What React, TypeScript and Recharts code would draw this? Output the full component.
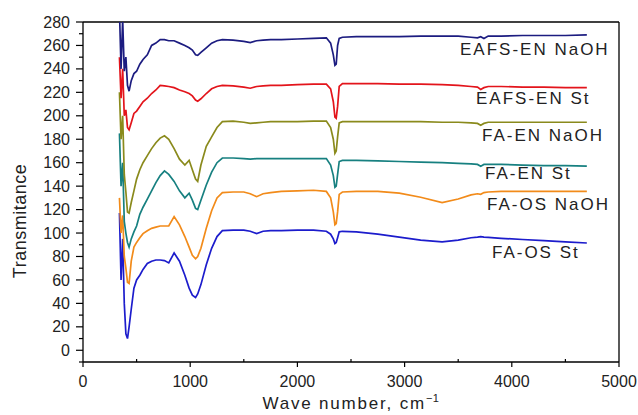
import React from 'react';
import { LineChart, Line, XAxis, YAxis, ReferenceLine, ReferenceDot } from 'recharts';

const FONT = '"Liberation Sans", Arial, Helvetica, sans-serif';

// Wave numbers (cm^-1)
const wave = [
  340, 355, 370, 385, 400, 415, 430, 450, 475, 500,
  530, 560, 600, 640, 680, 720, 760, 800, 850, 900,
  950, 990, 1020, 1050, 1070, 1100, 1150, 1200, 1250, 1300,
  1400, 1500, 1560, 1620, 1680, 1750, 1850, 2000, 2150, 2270,
  2310, 2335, 2350, 2362, 2375, 2390, 2420, 2550, 2750, 2950,
  3150, 3350, 3500, 3620, 3680, 3710, 3740, 3780, 3900, 4100,
  4300, 4500, 4700,
];

const eafsEnNaOH = [
  290, 240, 282, 238, 250, 226, 221, 230, 236, 238,
  244, 248, 252, 260, 262, 265, 265, 264, 264, 262,
  260, 258, 256, 252, 251.5, 254, 258, 262, 264, 265,
  264.5, 263.5, 262.5, 264, 264.5, 265, 265, 265.5, 266, 266.5,
  262, 252, 243, 244, 260, 266, 267, 267.5, 267.5, 267.5,
  268, 268, 268, 267, 266.5, 267.5, 266, 268, 268, 268.5,
  268.5, 268.5, 269,
];

const eafsEnSt = [
  250, 215, 240, 200, 205, 190, 188, 194, 202, 204,
  208, 212, 215, 219, 222, 226, 225.5, 225, 224, 222,
  220.5, 219, 217, 213.5, 212.5, 214.5, 219, 223, 225, 226,
  225.5, 224.5, 223.5, 225, 225.5, 226, 226, 226.5, 227, 227,
  223, 212, 199, 198, 208, 225, 227.5, 227.5, 227.5, 227,
  227, 226.5, 226, 225, 224.5, 222.5, 224, 225, 225, 224.5,
  224.5, 224, 224,
];

const faEnNaOH = [
  220, 180, 200, 150, 135, 118, 117, 126, 136, 146,
  154, 160, 166, 172, 177, 181, 183, 180, 172, 163,
  158, 162, 154, 146, 144, 158, 174, 182, 190, 195,
  195.5, 194.5, 193.5, 194, 194.5, 195, 195, 195, 195.5, 195.5,
  190, 180, 168, 170, 182, 194, 195, 195, 195, 195,
  195, 194.5, 194.5, 194, 193.5, 192, 193.5, 194.5, 194.5, 194.5,
  194.5, 194.5, 194.5,
];

const faEnSt = [
  185, 140, 160, 110, 100, 92, 88, 95, 101, 106,
  116, 122, 129, 136, 143, 149, 153, 150, 144, 136,
  130, 134, 128, 121, 120, 128, 141, 152, 160, 164,
  164, 163.5, 163, 163.5, 163.5, 163.5, 163.5, 163.5, 163.5, 163.5,
  158, 149, 139, 140, 150, 161, 162, 162, 161.5, 161,
  160.5, 160, 159.5, 159, 158.5, 157, 158.5, 158.5, 158.5, 158,
  157.5, 157.5, 157,
];

const faOsNaOH = [
  130, 100, 115, 80, 70, 58, 57, 76, 88, 92,
  96, 99.5, 102, 104, 105, 106, 106, 106, 114, 107,
  97, 88, 81, 78, 80, 87, 104, 119, 130, 134.5,
  135, 135, 133.5, 131, 133.5, 134.5, 135.5, 136, 136.5, 135.5,
  130, 118, 107, 108, 118, 133, 135, 135.5, 135.5, 134,
  130.5, 126, 129, 132.5, 133.5, 133, 134.5, 135, 135.5, 135.5,
  135.5, 135.5, 135.5,
];

const faOsSt = [
  117, 60, 95, 40, 14, 10, 20, 35, 53, 60,
  64, 69, 74, 76, 77, 77, 76.5, 74.5, 83, 76,
  64, 53, 47, 45, 48, 56, 73, 87, 97, 102,
  102.5, 102.5, 101.5, 99.5, 101.5, 102, 102, 102.5, 102.5, 101.5,
  99, 95, 91, 92, 96, 101, 101.5, 101, 99, 96.5,
  94, 92.5, 94, 96, 96.5, 97, 96.5, 96.3, 95.5, 94.5,
  93.5, 92.5, 91.5,
];

const seriesNames = ['EAFS-EN NaOH', 'EAFS-EN St', 'FA-EN NaOH', 'FA-EN St', 'FA-OS NaOH', 'FA-OS St'];
const seriesColors = ['#1c1c80', '#e3141b', '#8a8a1c', '#178080', '#f28b1a', '#1c1ccc'];
const seriesValues = [eafsEnNaOH, eafsEnSt, faEnNaOH, faEnSt, faOsNaOH, faOsSt];

// Label anchors (data units): wave number and transmittance at text baseline start
const labelWave = [3517, 3666, 3722, 3750, 3769, 3815];
const labelT = [251.6, 209.8, 178.3, 145.9, 119.4, 78.5];

const xTicks = [0, 500, 1000, 1500, 2000, 2500, 3000, 3500, 4000, 4500, 5000];
const yTicks = [-10, 0, 10, 20, 30, 40, 50, 60, 70, 80, 90, 100, 110, 120, 130, 140, 150, 160, 170, 180, 190, 200, 210, 220, 230, 240, 250, 260, 270, 280];

const rows = wave.map((w, i) => {
  const r: Record<string, number> = { w };
  seriesValues.forEach((arr, k) => {
    r['s' + k] = arr[i];
  });
  return r;
});

const XTick = (props: any) => {
  const { x, y, payload } = props;
  const v = payload.value;
  const major = v % 1000 === 0;
  return (
    <g>
      <line x1={x} x2={x} y1={y} y2={major ? y + 5 : y - 3} stroke="#000" strokeWidth={1.2} />
      {major && (
        <text x={x} y={y + 25} textAnchor="middle" fontSize={16} fontFamily={FONT} fill="#222">
          {v}
        </text>
      )}
    </g>
  );
};

const YTick = (props: any) => {
  const { x, y, payload } = props;
  const v = payload.value;
  const major = v % 20 === 0;
  return (
    <g>
      <line x1={x} x2={x - (major ? 7 : 4)} y1={y} y2={y} stroke="#000" strokeWidth={1.2} />
      {major && (
        <text x={x - 13} y={y} dy="0.35em" textAnchor="end" fontSize={16} fontFamily={FONT} fill="#222">
          {v}
        </text>
      )}
    </g>
  );
};

const XTitle = (props: any) => {
  const vb = props.viewBox || { x: 83, y: 362, width: 536, height: 53 };
  const cx = vb.x + vb.width / 2;
  return (
    <text x={cx} y={vb.y + 47} textAnchor="middle" fontSize={17} fontFamily={FONT} fill="#222" letterSpacing={1.8}>
      Wave number, cm
      <tspan fontSize={11} dy={-7} letterSpacing={0.5}>−1</tspan>
    </text>
  );
};

const YTitle = (props: any) => {
  const vb = props.viewBox || { x: 0, y: 22, width: 83, height: 340 };
  const cx = vb.x + 20;
  const cy = vb.y + 199;
  return (
    <text
      x={cx}
      y={cy}
      dy="0.35em"
      transform={`rotate(-90, ${cx}, ${cy})`}
      textAnchor="middle"
      fontSize={18}
      fontFamily={FONT}
      fill="#222"
      letterSpacing={0.5}
    >
      Transmitance
    </text>
  );
};

const SeriesLabel = (props: any) => {
  const vb = props.viewBox || { x: 0, y: 0 };
  return (
    <text x={vb.x} y={vb.y} fontSize={17} fontFamily={FONT} fill="#222" letterSpacing={2}>
      {props.txt}
    </text>
  );
};

export default function App() {
  const order = [5, 4, 3, 2, 1, 0];
  return (
    <div style={{ position: 'absolute', left: 0, top: 0, width: 638, height: 415 }}>
      <LineChart width={638} height={415} data={rows} margin={{ top: 22, right: 19, bottom: 0, left: 0 }}>
        <XAxis
          dataKey="w"
          type="number"
          domain={[0, 5000]}
          ticks={xTicks}
          interval={0}
          tickSize={0}
          tickMargin={0}
          tickLine={false}
          tick={<XTick />}
          height={53}
          axisLine={{ stroke: '#000', strokeWidth: 1.3 }}
          allowDataOverflow
          label={<XTitle />}
        />
        <YAxis
          type="number"
          domain={[-10, 280]}
          ticks={yTicks}
          interval={0}
          tickSize={0}
          tickMargin={0}
          tickLine={false}
          tick={<YTick />}
          width={83}
          axisLine={{ stroke: '#000', strokeWidth: 1.3 }}
          allowDataOverflow
          label={<YTitle />}
        />
        <ReferenceLine y={280} stroke="#000" strokeWidth={1.3} />
        <ReferenceLine x={5000} stroke="#000" strokeWidth={1.3} />
        {order.map((k) => (
          <Line
            key={k}
            dataKey={'s' + k}
            name={seriesNames[k]}
            stroke={seriesColors[k]}
            strokeWidth={1.7}
            dot={false}
            activeDot={false}
            type="linear"
            isAnimationActive={false}
          />
        ))}
        {seriesNames.map((n, k) => (
          <ReferenceDot
            key={'l' + k}
            x={labelWave[k]}
            y={labelT[k]}
            r={0}
            fill="none"
            stroke="none"
            label={<SeriesLabel txt={n} />}
          />
        ))}
      </LineChart>
    </div>
  );
}
